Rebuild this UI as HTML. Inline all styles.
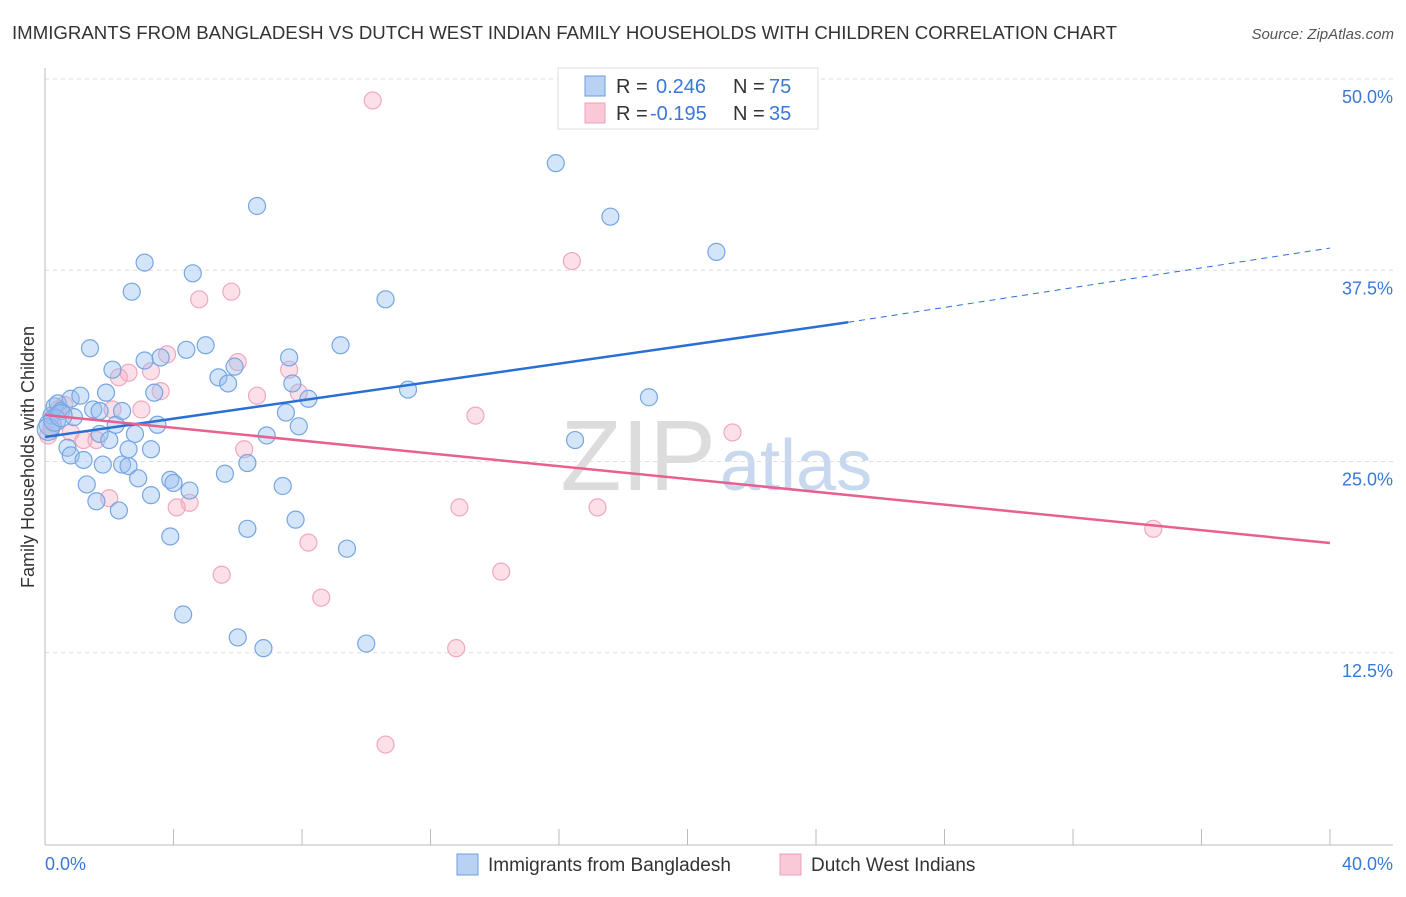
<!DOCTYPE html>
<html><head><meta charset="utf-8"><style>
body{margin:0;background:#fff;font-family:"Liberation Sans",sans-serif;}
svg text{font-family:"Liberation Sans",sans-serif;}
</style></head><body>
<svg id="chart" width="1406" height="892">
<text x="12" y="39" font-size="18" fill="#333" textLength="1105" lengthAdjust="spacingAndGlyphs">IMMIGRANTS FROM BANGLADESH VS DUTCH WEST INDIAN FAMILY HOUSEHOLDS WITH CHILDREN CORRELATION CHART</text>
<text x="1394" y="39" font-size="15" fill="#555" font-style="italic" text-anchor="end">Source: ZipAtlas.com</text>
<text x="716" y="490" font-size="100" fill="#dcdcdc" text-anchor="end" font-family="Liberation Serif">ZIP</text>
<text x="720" y="490" font-size="72" fill="#c8d8ee">atlas</text>
<g id="grid"></g>
<g id="axes"></g>
<g id="marks"></g>
<text transform="translate(34,457) rotate(-90)" font-size="18" fill="#333" text-anchor="middle">Family Households with Children</text>
<g>
<rect x="558" y="68" width="260" height="61" fill="#fff" stroke="#ddd"/>
<rect x="585" y="76" width="20" height="20" fill="#b9d2f3" stroke="#6a9ee0"/>
<rect x="585" y="103" width="20" height="20" fill="#f9c9d8" stroke="#f0a0b8"/>
<text x="616" y="93" font-size="20" fill="#333">R =</text>
<text x="656" y="93" font-size="20" fill="#3a78d8">0.246</text>
<text x="733" y="93" font-size="20" fill="#333">N =</text>
<text x="769" y="93" font-size="20" fill="#3a78d8">75</text>
<text x="616" y="120" font-size="20" fill="#333">R =</text>
<text x="650" y="120" font-size="20" fill="#3a78d8">-0.195</text>
<text x="733" y="120" font-size="20" fill="#333">N =</text>
<text x="769" y="120" font-size="20" fill="#3a78d8">35</text>
</g>
<g>
<rect x="457" y="854" width="21" height="21" fill="#b9d2f3" stroke="#6a9ee0"/>
<text x="488" y="871" font-size="19" fill="#333">Immigrants from Bangladesh</text>
<rect x="780" y="854" width="21" height="21" fill="#f9c9d8" stroke="#f0a0b8"/>
<text x="811" y="871" font-size="19" fill="#333">Dutch West Indians</text>
</g>
</svg>
<script>
const blueX=[0.2,0.3,0.4,0.5,0.7,0.8,0.8,0.9,1.1,1.2,1.3,1.4,1.5,1.6,1.7,1.7,1.8,1.9,2.0,2.1,2.2,2.3,2.4,2.4,2.6,2.6,2.7,2.8,2.9,3.1,3.1,3.3,3.3,3.4,3.5,3.6,3.9,3.9,4.0,4.3,4.4,4.5,4.6,5.0,5.4,5.6,5.7,5.9,6.0,6.3,6.3,6.6,6.8,6.9,7.4,7.5,7.6,7.7,7.8,7.9,8.2,9.2,9.4,10.0,10.6,11.3,15.9,16.5,17.6,18.8,20.9,0.16,0.1,0.3,0.5];
const blueY=[28.0,28.6,28.8,28.3,25.9,25.4,29.1,27.9,29.3,25.1,23.5,32.4,28.4,22.4,26.8,28.3,24.8,29.5,26.4,31.0,27.4,21.8,24.8,28.3,25.8,24.7,36.1,26.8,23.9,38.0,31.6,25.8,22.8,29.5,27.4,31.8,20.1,23.8,23.6,15.0,32.3,23.1,37.3,32.6,30.5,24.2,30.1,31.2,13.5,24.9,20.6,41.7,12.8,26.7,23.4,28.2,31.8,30.1,21.2,27.3,29.1,32.6,19.3,13.1,35.6,29.7,44.5,26.4,41.0,29.2,38.7,27.4,27.1,27.7,28.0];
const pinkX=[0.1,0.2,0.4,0.6,0.8,1.2,1.6,2.0,2.1,2.3,2.6,3.0,3.3,3.6,3.8,4.1,4.5,4.8,5.5,5.8,6.0,6.2,6.6,7.6,7.9,8.2,8.6,10.2,10.6,12.8,12.9,13.4,14.2,16.4,17.2,21.4,34.5];
const pinkY=[26.7,27.2,28.4,28.7,26.9,26.4,26.4,22.6,28.4,30.5,30.8,28.4,30.9,29.6,32.0,22.0,22.3,35.6,17.6,36.1,31.5,25.8,29.3,31.0,29.5,19.7,16.1,48.6,6.5,12.8,22.0,28.0,17.8,38.1,22.0,26.9,20.6];
const trendBlueX=[0,25.0], trendBlueY=[26.6,34.1], trendBlueExtX=[25.0,40], trendBlueExtY=[34.1,38.95];
const trendPinkX=[0,40], trendPinkY=[28.04,19.67];
const yTicks=[12.5,25.0,37.5,50.0];
const xTickVals=[0,4,8,12,16,20,24,28,32,36,40];
const NS='http://www.w3.org/2000/svg';
const xs=v=>45+v/40*1285, ys=v=>844-v*15.3;
function mk(tag,attrs,parent){const e=document.createElementNS(NS,tag);for(const k in attrs)e.setAttribute(k,attrs[k]);parent.appendChild(e);return e;}
const grid=document.getElementById('grid'),axes=document.getElementById('axes'),marks=document.getElementById('marks');
yTicks.forEach(t=>{
 const l=mk('line',{x1:45,x2:1393,y1:ys(t),y2:ys(t),stroke:'#ddd','stroke-dasharray':'4,4'},grid);
 
 
 const tx=mk('text',{x:1393,y:ys(t)+24,'font-size':18,fill:'#3a78d8','text-anchor':'end'},grid);
 tx.textContent=t.toFixed(1)+'%';
 
 
});
const la=mk('line',{x1:45,x2:45,y1:68,y2:845,stroke:'#bbb'},axes);


const ba=mk('line',{x1:45,x2:1393,y1:845,y2:845,stroke:'#bbb'},axes);


xTickVals.forEach(t=>{
 const l=mk('line',{x1:xs(t),x2:xs(t),y1:829,y2:845,stroke:'#bbb'},axes);
 
 
});
[[0,'0.0%','start',45],[40,'40.0%','end',1393]].forEach(a=>{
 const tx=mk('text',{x:a[3],y:870,'font-size':18,fill:'#3a78d8','text-anchor':a[2]},axes);
 tx.textContent=a[1];
 
 
});
pinkX.forEach((x,i)=>{
 const c=mk('circle',{cx:xs(x),cy:ys(pinkY[i]),r:8.5,fill:'rgba(245,165,190,0.35)',stroke:'#f0a8c0','stroke-width':1.2},marks);
 
 
});
blueX.forEach((x,i)=>{
 const c=mk('circle',{cx:xs(x),cy:ys(blueY[i]),r:i>=71?11:8.5,fill:'rgba(150,190,240,0.4)',stroke:'#76a6e2','stroke-width':1.2},marks);
 
 
});
const tb=mk('line',{x1:xs(trendBlueX[0]),y1:ys(trendBlueY[0]),x2:xs(trendBlueX[1]),y2:ys(trendBlueY[1]),stroke:'#2a6fd6','stroke-width':2.5},marks);


const te=mk('line',{x1:xs(trendBlueExtX[0]),y1:ys(trendBlueExtY[0]),x2:xs(trendBlueExtX[1]),y2:ys(trendBlueExtY[1]),stroke:'#2a6fd6','stroke-width':1,'stroke-dasharray':'6,5'},marks);


const tp=mk('line',{x1:xs(trendPinkX[0]),y1:ys(trendPinkY[0]),x2:xs(trendPinkX[1]),y2:ys(trendPinkY[1]),stroke:'#e8608e','stroke-width':2.5},marks);


</script>
</body></html>
